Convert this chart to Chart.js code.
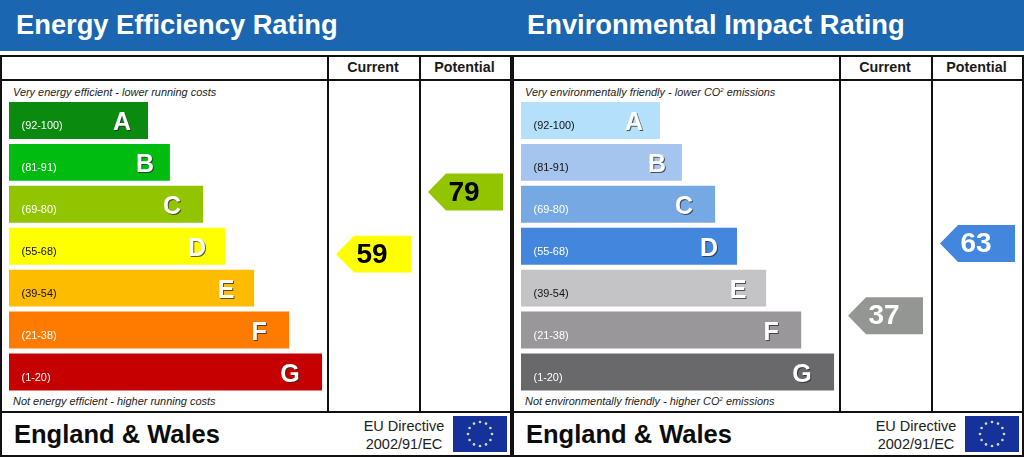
<!DOCTYPE html>
<html>
<head>
<meta charset="utf-8">
<title>EPC</title>
<script src="https://cdn.jsdelivr.net/npm/chart.js@4"></script>
<style>
  html, body { margin: 0; padding: 0; background: #fff; overflow: hidden; }
  body { width: 1024px; height: 457px; position: relative; font-family: "Liberation Sans", Arial, sans-serif; }
  .abs { position: absolute; white-space: nowrap; }
  .band { position: absolute; top: 0; height: 51px; background: #1a66b1; }
  .title { position: absolute; top: 9px; color: #fff; font-weight: bold; font-size: 27.3px; line-height: 32px; white-space: nowrap; }
  .rule { position: absolute; background: #111; }
  .col { position: absolute; top: 59px; text-align: center; font-weight: bold; font-size: 14.3px; line-height: 17px; color: #1a1a1a; }
  .note { position: absolute; font-style: italic; font-size: 10.95px; line-height: 13px; color: #222; white-space: nowrap; }
  .note sup { font-size: 6px; line-height: 0; vertical-align: 4px; }
  .region { position: absolute; top: 419px; font-weight: bold; font-size: 25.5px; line-height: 30px; color: #0c0c0c; white-space: nowrap; }
  .directive { position: absolute; top: 417px; width: 100px; text-align: center; font-size: 14.5px; line-height: 18px; color: #222; }
  canvas { position: absolute; top: 80px; }
</style>
</head>
<body>

<div class="band" style="left:0;width:1024px"></div>
<div class="title" style="left:16px">Energy Efficiency Rating</div>
<div class="title" style="left:527px">Environmental Impact Rating</div>

<!-- frame lines -->
<div class="rule" style="left:0;top:55px;width:1024px;height:2px"></div>
<div class="rule" style="left:0;top:79px;width:1024px;height:2px"></div>
<div class="rule" style="left:0;top:411px;width:1024px;height:2px"></div>
<div class="rule" style="left:0;top:455px;width:1024px;height:2px"></div>
<div class="rule" style="left:0;top:55px;width:2px;height:402px"></div>
<div class="rule" style="left:327px;top:55px;width:2px;height:357px"></div>
<div class="rule" style="left:419px;top:55px;width:2px;height:357px"></div>
<div class="rule" style="left:510px;top:55px;width:4px;height:402px"></div>
<div class="rule" style="left:839px;top:55px;width:2px;height:357px"></div>
<div class="rule" style="left:931px;top:55px;width:2px;height:357px"></div>
<div class="rule" style="left:1022px;top:55px;width:2px;height:402px"></div>

<div class="col" style="left:329px;width:88px">Current</div>
<div class="col" style="left:420px;width:89px">Potential</div>
<div class="col" style="left:841px;width:88px">Current</div>
<div class="col" style="left:932px;width:89px">Potential</div>

<div class="note" style="left:13px;top:86px">Very energy efficient - lower running costs</div>
<div class="note" style="left:13px;top:395px">Not energy efficient - higher running costs</div>
<div class="note" style="left:525px;top:86px">Very environmentally friendly - lower CO<sup>2</sup> emissions</div>
<div class="note" style="left:525px;top:395px">Not environmentally friendly - higher CO<sup>2</sup> emissions</div>

<canvas id="energyChart" width="512" height="332" style="left:0"></canvas>
<canvas id="impactChart" width="512" height="332" style="left:512px"></canvas>

<div class="region" style="left:14px">England &amp; Wales</div>
<div class="region" style="left:526px">England &amp; Wales</div>
<div class="directive" style="left:354px">EU Directive<br>2002/91/EC</div>
<div class="directive" style="left:866px">EU Directive<br>2002/91/EC</div>
<svg class="abs flag" width="54" height="36" style="left:453px;top:416px"></svg>
<svg class="abs flag" width="54" height="36" style="left:965px;top:416px"></svg>

<script>
// bands, top to bottom
const bandLetters = ['A', 'B', 'C', 'D', 'E', 'F', 'G'];
const bandRanges = ['(92-100)', '(81-91)', '(69-80)', '(55-68)', '(39-54)', '(21-38)', '(1-20)'];
const bandLows = [92, 81, 69, 55, 39, 21, 1];
const bandHighs = [100, 91, 80, 68, 54, 38, 20];

// bar length as a percent of the longest band
const bandLengths = [44.4, 51.4, 62, 69, 78.3, 89.5, 100];

const energyColours = ['#0a8a0e', '#00bc10', '#92c400', '#ffff00', '#fdbc00', '#ff7b00', '#c60000'];
const energyRangeText = ['#fff', '#fff', '#fff', '#111', '#111', '#fff', '#fff'];
const impactColours = ['#b5e0fb', '#a5c5ee', '#76a9e3', '#4286dd', '#c4c3c5', '#9a979b', '#69686a'];
const impactRangeText = ['#111', '#111', '#fff', '#fff', '#111', '#fff', '#fff'];
const impactArrowColours = ['#b5e0fb', '#a5c5ee', '#76a9e3', '#4286dd', '#c4c3c5', '#949693', '#69686a'];

const energyScores = { current: 59, potential: 79 };
const impactScores = { current: 37, potential: 63 };

// letters on the bars and the score arrows in the two right columns
const letterInset = [26, 25, 31, 28, 28, 30, 32];
const ratingMarks = {
    id: 'ratingMarks',
    afterDatasetsDraw(chart, args, opts) {
        const ctx = chart.ctx;
        const meta = chart.getDatasetMeta(0);
        ctx.save();

        meta.data.forEach((bar, i) => {
            ctx.font = 'bold 25px "Liberation Sans"';
            ctx.textAlign = 'center';
            ctx.textBaseline = 'middle';
            const lx = bar.x - letterInset[i], ly = bar.y + 3;
            ctx.fillStyle = 'rgba(40,40,40,0.75)';
            ctx.fillText(bandLetters[i], lx + 1, ly + 1);
            ctx.fillStyle = '#fff';
            ctx.fillText(bandLetters[i], lx, ly);
        });

        const barH = meta.data[0].height;
        [[opts.current, 411], [opts.potential, 503]].forEach(([score, right]) => {
            // arrow sits inside its band, at the height of the score
            const i = bandLows.findIndex(low => score >= low);
            const frac = (bandHighs[i] + 1 - score) / (bandHighs[i] + 1 - bandLows[i]);
            const y = chart.scales.y.getPixelForValue(i) + (frac - 0.5) * barH;
            const h = barH / 2;
            ctx.fillStyle = opts.arrowColours[i];
            ctx.beginPath();
            ctx.moveTo(right - 75, y);
            ctx.lineTo(right - 57, y - h);
            ctx.lineTo(right, y - h);
            ctx.lineTo(right, y + h);
            ctx.lineTo(right - 57, y + h);
            ctx.closePath();
            ctx.fill();
            ctx.font = 'bold 28px "Liberation Sans"';
            ctx.textAlign = 'center';
            ctx.textBaseline = 'middle';
            ctx.fillStyle = opts.scoreText;
            ctx.fillText(String(score), right - 39, y + 1);
        });
        ctx.restore();
    }
};

function makeRatingChart(id, colours, rangeText, arrowColours, scores, scoreText) {
    return new Chart(document.getElementById(id), {
        type: 'bar',
        data: {
            labels: bandRanges,
            datasets: [{
                data: bandLengths,
                backgroundColor: colours,
                categoryPercentage: 1,
                barPercentage: 0.881
            }]
        },
        options: {
            indexAxis: 'y',
            responsive: false,
            animation: false,
            layout: { padding: { left: 9, right: 9, top: 19.5, bottom: 18.5 } },
            plugins: {
                legend: { display: false },
                tooltip: { enabled: false },
                ratingMarks: { current: scores.current, potential: scores.potential, arrowColours: arrowColours, scoreText: scoreText }
            },
            scales: {
                x: { display: false, min: 0, max: 157.8 },
                y: {
                    afterFit: scale => { scale.width = 0; },
                    border: { display: false },
                    grid: { display: false, drawTicks: false },
                    ticks: {
                        mirror: true,
                        z: 1,
                        padding: 12.5,
                        labelOffset: 6,
                        autoSkip: false,
                        color: c => rangeText[c.index],
                        font: { family: '"Liberation Sans"', size: 10.9 }
                    }
                }
            }
        },
        plugins: [ratingMarks]
    });
}

makeRatingChart('energyChart', energyColours, energyRangeText, energyColours, energyScores, '#000');
makeRatingChart('impactChart', impactColours, impactRangeText, impactArrowColours, impactScores, '#fff');

// EU flag, twelve stars
document.querySelectorAll('.flag').forEach(svg => {
    let s = '<rect width="54" height="36" fill="#14329a"/>';
    for (let k = 0; k < 12; k++) {
        const a = k * Math.PI / 6;
        s += '<circle cx="' + (27 + 12 * Math.sin(a)) + '" cy="' + (18 - 12 * Math.cos(a)) + '" r="1.3" fill="#d9dca8"/>';
    }
    svg.innerHTML = s;
});
</script>
</body>
</html>
